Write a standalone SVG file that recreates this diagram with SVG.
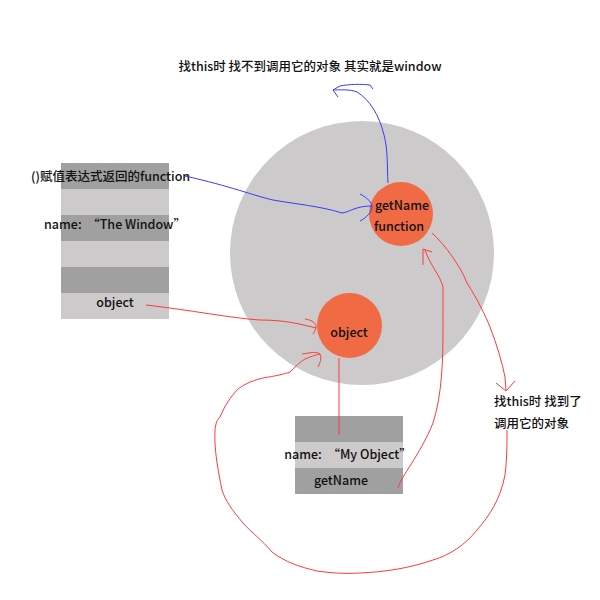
<svg xmlns="http://www.w3.org/2000/svg" width="600" height="600" viewBox="0 0 600 600">
<style>
text{font-family:"Noto Sans CJK SC","Noto Sans",sans-serif;font-size:12.5px;fill:#111;font-weight:500;white-space:pre}
.d{fill:#a0a0a0}.l{fill:#cccaca}.o{fill:#f06a44}
.r{fill:none;stroke:#ff3a3a;stroke-width:1}
.b{fill:none;stroke:#3a3aff;stroke-width:1}
</style>
<rect width="600" height="600" fill="#fff"/>
<g id="scope">
<circle cx="362" cy="253" r="132" fill="#cccaca"/>
</g>
<g id="window-stack">
<rect class="d" x="61" y="163" width="108" height="26"/>
<rect class="l" x="61" y="189" width="108" height="26"/>
<rect class="d" x="61" y="215" width="108" height="26"/>
<rect class="l" x="61" y="241" width="108" height="26"/>
<rect class="d" x="61" y="267" width="108" height="26"/>
<rect class="l" x="61" y="293" width="108" height="26"/>
<text x="31" y="181">()赋值表达式返回的function</text>
<text x="115" y="229" text-anchor="middle">name:  “The Window”</text>
<text x="115" y="307" text-anchor="middle">object</text>
</g>
<g id="getName-node">
<circle class="o" cx="401" cy="214" r="32"/>
<text x="402" y="210" text-anchor="middle">getName</text>
<text x="399" y="231" text-anchor="middle">function</text>
</g>
<g id="object-node">
<circle class="o" cx="349.5" cy="325.5" r="32.5"/>
<text x="349" y="337" text-anchor="middle">object</text>
</g>
<g id="myobject-stack">
<rect class="d" x="295" y="416" width="108" height="26"/>
<rect class="l" x="295" y="442" width="108" height="26"/>
<rect class="d" x="295" y="468" width="108" height="26"/>
<text x="348" y="459" text-anchor="middle">name:  “My Object”</text>
<text x="341" y="485" text-anchor="middle">getName</text>
</g>
<g id="labels">
<text x="310" y="71" text-anchor="middle">找this时 找不到调用它的对象 其实就是window</text>
<text x="494" y="406">找this时 找到了</text>
<text x="494" y="428">调用它的对象</text>
</g>
<g id="connectors">
<path class="b" d="M185,176 C230,186 255,196 273,200 C295,204 320,206 342,213 C350,212 355,206 372,206"/>
<path class="b" d="M360,194 C368,198 372,203 372,207 C372,212 366,218 360,221"/>
<path class="b" d="M388,183 C387,165 388,150 384,135 C379,115 370,100 357,92 C350,89 340,90 333,90"/>
<path class="b" d="M338,97 L333,90 L340,86 C350,84 362,84 370,85 L373,89"/>
<path class="r" d="M146,305 C190,310 230,318 260,320 C285,320 300,324 316,328"/>
<path class="r" d="M305,319 C312,320 316,323 316,327 C316,330 314,332 313,334"/>
<path class="r" d="M339,358 L339,435"/>
<path class="r" d="M398,488 C400,478 420,455 433,423 C442,395 443,360 443,330 C443,310 443,295 443,287 C440,275 430,265 425,250"/>
<path class="r" d="M423,265 L423,249 L432,252"/>
<path class="r" d="M432,233 C445,245 460,265 467,283 C478,300 485,315 490,327 C497,345 502,362 505,377 L506,390"/>
<path class="r" d="M496,383 L506,391 L515,381"/>
<path class="r" d="M507,430 C507,445 507,460 505,475 C500,500 490,515 477,530 C465,545 450,555 433,560 C410,568 385,572 360,573 C345,574 330,573 317,571 C300,567 285,562 272,552 C262,540 252,533 243,523 C232,510 225,500 222,490 C218,470 214,450 215,430 C216,422 217,420 220,417 C225,405 230,398 237,390 C245,383 255,380 263,378 C275,376 285,374 290,372 C295,367 300,362 305,359 C310,357 315,355 320,354"/>
<path class="r" d="M302,354 C310,353 316,351 320,354 C322,358 320,363 318,367"/>
</g>
</svg>
